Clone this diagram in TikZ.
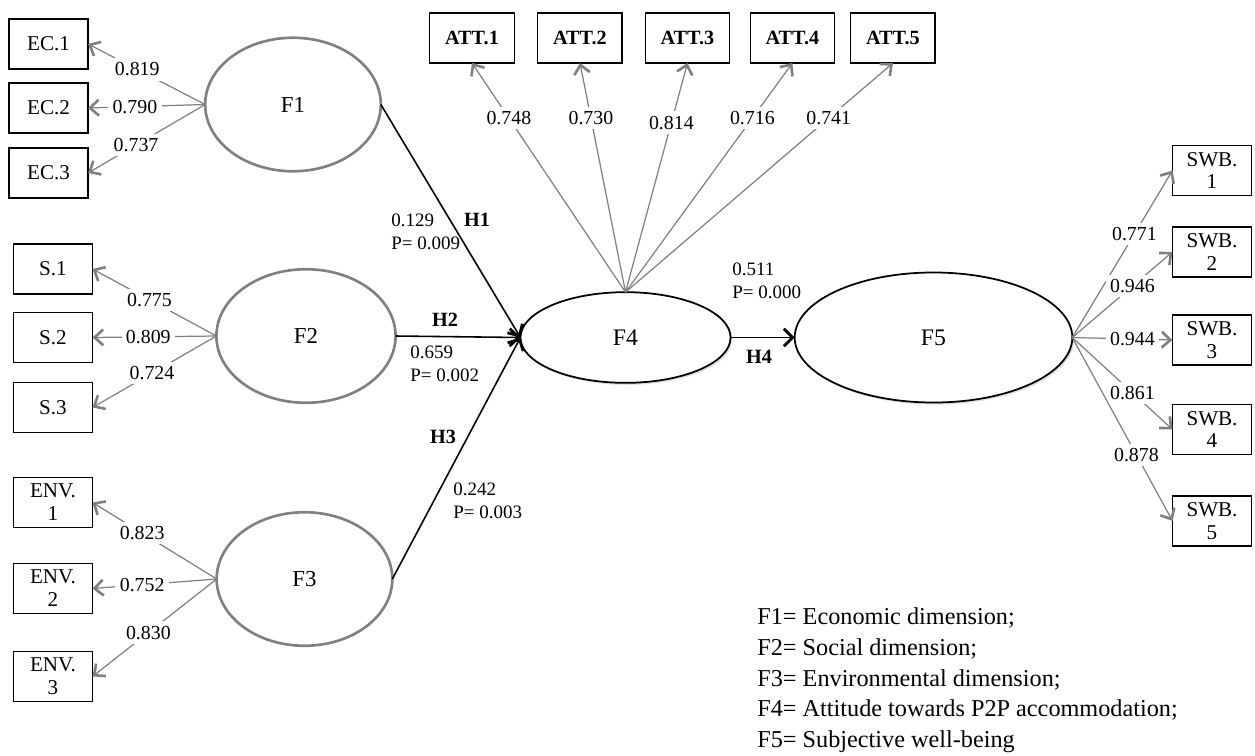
\documentclass[tikz,border=0pt]{standalone}
\usepackage{fontspec}
\setmainfont{Liberation Serif}
\usepackage{tikz}
\usetikzlibrary{shapes,arrows,arrows.meta,positioning,shadows}
\definecolor{loadgray}{RGB}{128,128,128}

\begin{document}
\begin{tikzpicture}[x=0.02cm, y=-0.02cm,
  indic/.style={rectangle, draw, line width=0.75pt, minimum width=45pt, minimum height=28.5pt, inner sep=1pt, outer sep=0pt, align=center, font=\fontsize{12}{13}\selectfont},
  attbox/.style={indic, minimum width=48pt, font=\fontsize{11.5}{13}\selectfont\bfseries},
  latentg/.style={ellipse, draw=loadgray, fill=white, line width=1.5pt, inner sep=0pt, outer sep=0pt, minimum width=100pt, minimum height=76pt, font=\fontsize{13}{15}\selectfont},
  latentb/.style={ellipse, draw, fill=white, line width=1pt, inner sep=0pt, outer sep=0pt, drop shadow={opacity=0.25, shadow xshift=1pt, shadow yshift=-1.2pt}, font=\fontsize{13.5}{15}\selectfont},
  loadline/.style={draw=loadgray, line width=0.7pt, -{Straight Barb[length=5pt, width=9pt, line width=1.5pt]}},
  pathline/.style={draw, line width=0.9pt, -{Straight Barb[length=5pt, width=10pt, line width=1.6pt]}},
  loadlbl/.style={fill=white, inner sep=2.5pt, font=\fontsize{11.3}{13}\selectfont},
  coef/.style={align=left, inner sep=0pt, anchor=west, font=\fontsize{10.8}{13}\selectfont},
  hyp/.style={inner sep=0pt, font=\fontsize{11.5}{13}\selectfont\bfseries}]
\useasboundingbox (0,0) rectangle (1255,755);

% latent factors
\node (f1) [latentg] at (293,104.5) {F1};
\node (f2) [latentg, minimum width=102pt] at (306,336) {F2};
\node (f3) [latentg] at (304.5,579) {F3};
\node (f4) [latentb, minimum width=119.6pt, minimum height=51.6pt] at (625.5,337.5) {F4};
\node (f5) [latentb, minimum width=158pt, minimum height=74pt] at (933.5,337.5) {F5};

% indicators
\node (ec1) [indic] at (48.5,44) {EC.1};
\node (ec2) [indic, below of=ec1, node distance=1.28cm] {EC.2};
\node (ec3) [indic, below of=ec2, node distance=1.3cm] {EC.3};
\node (s1) [indic] at (53,269) {S.1};
\node (s2) [indic, below of=s1, node distance=1.37cm] {S.2};
\node (s3) [indic, below of=s2, node distance=1.4cm] {S.3};
\node (env1) [indic] at (53,502.5) {ENV.\\1};
\node (env2) [indic, below of=env1, node distance=1.72cm] {ENV.\\2};
\node (env3) [indic, below of=env2, node distance=1.76cm] {ENV.\\3};
\node (att1) [attbox] at (472,38) {ATT.1};
\node (att2) [attbox, right of=att1, node distance=2.16cm] {ATT.2};
\node (att3) [attbox, right of=att2, node distance=2.15cm] {ATT.3};
\node (att4) [attbox, right of=att3, node distance=2.1cm] {ATT.4};
\node (att5) [attbox, right of=att4, node distance=2.01cm] {ATT.5};
\node (swb1) [indic] at (1212,170.5) {SWB.\\1};
\node (swb2) [indic, below of=swb1, node distance=1.63cm] {SWB.\\2};
\node (swb3) [indic, below of=swb2, node distance=1.76cm] {SWB.\\3};
\node (swb4) [indic, below of=swb3, node distance=1.79cm] {SWB.\\4};
\node (swb5) [indic, below of=swb4, node distance=1.83cm] {SWB.\\5};

% loadings
\draw [loadline] (f1.west) -- node[loadlbl, pos=0.58] {0.819} (ec1.east);
\draw [loadline] (f1.west) -- node[loadlbl, pos=0.6] {0.790} (ec2.east);
\draw [loadline] (f1.west) -- node[loadlbl, pos=0.59] {0.737} (ec3.east);
\draw [loadline] (f2.west) -- node[loadlbl, pos=0.54] {0.775} (s1.east);
\draw [loadline] (f2.west) -- node[loadlbl, pos=0.55] {0.809} (s2.east);
\draw [loadline] (f2.west) -- node[loadlbl, pos=0.52] {0.724} (s3.east);
\draw [loadline] (f3.west) -- node[loadlbl, pos=0.6] {0.823} (env1.east);
\draw [loadline] (f3.west) -- node[loadlbl, pos=0.6] {0.752} (env2.east);
\draw [loadline] (f3.west) -- node[loadlbl, pos=0.55] {0.830} (env3.east);
\draw [loadline] (f4.north) -- node[loadlbl, pos=0.76] {0.748} (att1.south);
\draw [loadline] (f4.north) -- node[loadlbl, pos=0.76] {0.730} (att2.south);
\draw [loadline] (f4.north) -- node[loadlbl, pos=0.74] {0.814} (att3.south);
\draw [loadline] (f4.north) -- node[loadlbl, pos=0.76] {0.716} (att4.south);
\draw [loadline] (f4.north) -- node[loadlbl, pos=0.76] {0.741} (att5.south);
\draw [loadline] (f5.east) -- node[loadlbl, pos=0.62] {0.771} (swb1.west);
\draw [loadline] (f5.east) -- node[loadlbl, pos=0.6] {0.946} (swb2.west);
\draw [loadline] (f5.east) -- node[loadlbl, pos=0.6] {0.944} (swb3.west);
\draw [loadline] (f5.east) -- node[loadlbl, pos=0.6] {0.861} (swb4.west);
\draw [loadline] (f5.east) -- node[loadlbl, pos=0.64] {0.878} (swb5.west);

% structural paths
\draw [pathline] (f1.east) -- (f4.west);
\draw [pathline] (f2.east) -- (f4.west);
\draw [pathline] (f3.east) -- (f4.west);
\draw [pathline] (f4.east) -- (f5.west);
\node (h1) [hyp] at (477,220) {H1};
\node (c1) [coef] at (391,232) {0.129\\P= 0.009};
\node (h2) [hyp] at (445,320) {H2};
\node (c2) [coef] at (410,364) {0.659\\P= 0.002};
\node (h3) [hyp] at (443,437) {H3};
\node (c3) [coef] at (453,501) {0.242\\P= 0.003};
\node (h4) [hyp] at (759,357) {H4};
\node (c4) [coef] at (732,281) {0.511\\P= 0.000};

% legend
\node (legend) [align=left, anchor=north west, inner sep=0pt, font=\fontsize{13.8}{17.6}\selectfont] at (757,607)
  {F1= Economic dimension;\\F2= Social dimension;\\F3= Environmental dimension;\\F4= Attitude towards P2P accommodation;\\F5= Subjective well-being};
\end{tikzpicture}
\end{document}
